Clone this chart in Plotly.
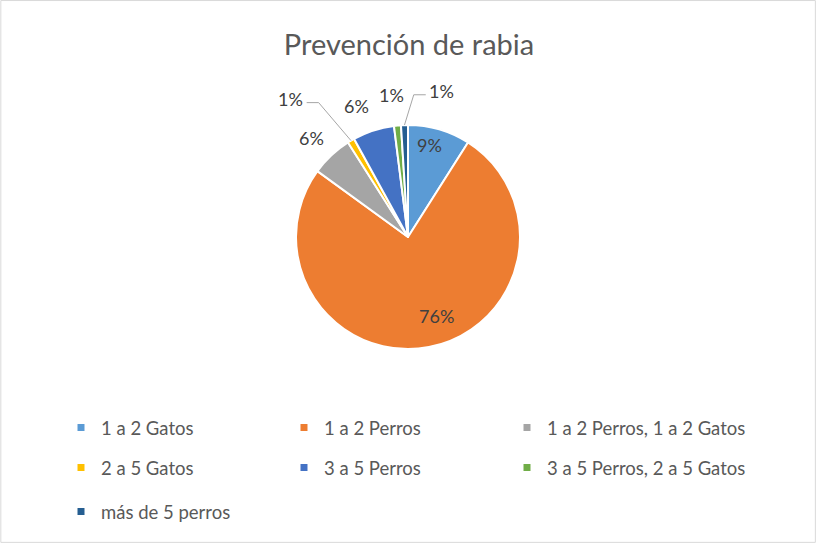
import math
import plotly.graph_objects as go

title = "Prevención de rabia"
categories = ["1 a 2 Gatos", "1 a 2 Perros", "1 a 2 Perros, 1 a 2 Gatos",
              "2 a 5 Gatos", "3 a 5 Perros", "3 a 5 Perros, 2 a 5 Gatos",
              "más de 5 perros"]
values = [9, 76, 6, 1, 6, 1, 1]
colors = ["#5B9BD5", "#ED7D31", "#A5A5A5", "#FFC000", "#4472C4", "#70AD47", "#255E91"]

FONT = "Lato, Roboto, sans-serif"
W, H = 817, 544
CX, CY, R = 408, 237, 112  # pie centre / radius in pixels

# label placement per slice: radius factor, angle nudge (deg), leader side
label_style = {
    0: dict(rf=0.84, da=-3.3, leader=None),
    1: dict(rf=0.75, da=-8.7, leader=None),
    2: dict(rf=1.23, da=-1.0, leader=None),
    3: dict(rf=1.62, da=-9.7, leader="left"),
    4: dict(rf=1.26, da=-3.6, leader=None),
    5: dict(rf=1.28, da=-1.1, leader=None),
    6: dict(rf=1.34, da=14.8, leader="right"),
}

fig = go.Figure()
fig.add_trace(go.Pie(
    labels=categories, values=values, sort=False, direction="clockwise", rotation=0,
    marker=dict(colors=colors, line=dict(color="white", width=2)),
    textinfo="none",
    showlegend=False, hoverinfo="label+percent",
    domain=dict(x=[(CX - R) / W, (CX + R) / W], y=[1 - (CY + R) / H, 1 - (CY - R) / H]),
))

# data labels computed from the slice angles
total = sum(values)
cum = 0.0
annotations = []
shapes = []
def px(x, y):
    return x / W, 1 - y / H
for i, v in enumerate(values):
    mid = (cum + v / 2) / total * 360.0
    cum += v
    st = label_style[i]
    a = math.radians(mid + st["da"])
    lx = CX + R * st["rf"] * math.sin(a)
    ly = CY - R * st["rf"] * math.cos(a)
    pct = round(v / total * 100)
    X, Y = px(lx, ly)
    annotations.append(dict(x=X, y=Y, xref="paper", yref="paper", text=f"{pct}%",
                            showarrow=False, xanchor="center", yanchor="middle",
                            font=dict(family=FONT, size=18, color="#404040")))
    if st["leader"]:
        am = math.radians(mid)
        ex = CX + R * math.sin(am)
        ey = CY - R * math.cos(am)
        sgn = 1 if st["leader"] == "left" else -1
        hx0, hx1 = lx + sgn * 16, lx + sgn * 28
        hy = ly + 4
        pts = [px(hx0, hy), px(hx1, hy), px(ex, ey)]
        path = "M {} {} L {} {} L {} {}".format(*[c for p in pts for c in p])
        shapes.append(dict(type="path", xref="paper", yref="paper", path=path,
                           line=dict(color="#A6A6A6", width=1)))

# legend: 3-column grid, one single-entry legend per category
col_x = [80, 303, 526]     # marker centres (px)
row_y = [428, 468, 512]    # marker centres (px)
legend_layout = {}
for i, name in enumerate(categories):
    key = "legend" if i == 0 else f"legend{i + 1}"
    r, c = divmod(i, 3)
    fig.add_trace(go.Scatter(
        x=[None], y=[None], mode="markers", name=name,
        marker=dict(symbol="square", size=7, color=colors[i]),
        legend=key, showlegend=True, hoverinfo="skip",
    ))
    legend_layout[key] = dict(
        orientation="h", x=(col_x[c] - 19) / W, xanchor="left",
        y=1 - row_y[r] / H, yanchor="middle",
        font=dict(family=FONT, size=18.5, color="#595959"),
        bgcolor="rgba(0,0,0,0)", itemclick=False, itemdoubleclick=False)

shapes.append(dict(type="rect", xref="paper", yref="paper", x0=0.001, y0=0.003, x1=0.998, y1=0.999,
                   line=dict(color="#D9D9D9", width=1)))

fig.update_layout(
    width=W, height=H,
    margin=dict(l=0, r=0, t=0, b=0),
    paper_bgcolor="white", plot_bgcolor="rgba(0,0,0,0)",
    title=dict(text=title, x=409 / W, xanchor="center", y=1 - 45 / H, yanchor="middle",
               font=dict(family=FONT, size=29, color="#595959")),
    xaxis=dict(visible=False), yaxis=dict(visible=False),
    annotations=annotations,
    shapes=shapes,
    **legend_layout,
)

fig.write_html("out.html", config={"displayModeBar": False},
               post_script="document.body.style.margin='0';")
